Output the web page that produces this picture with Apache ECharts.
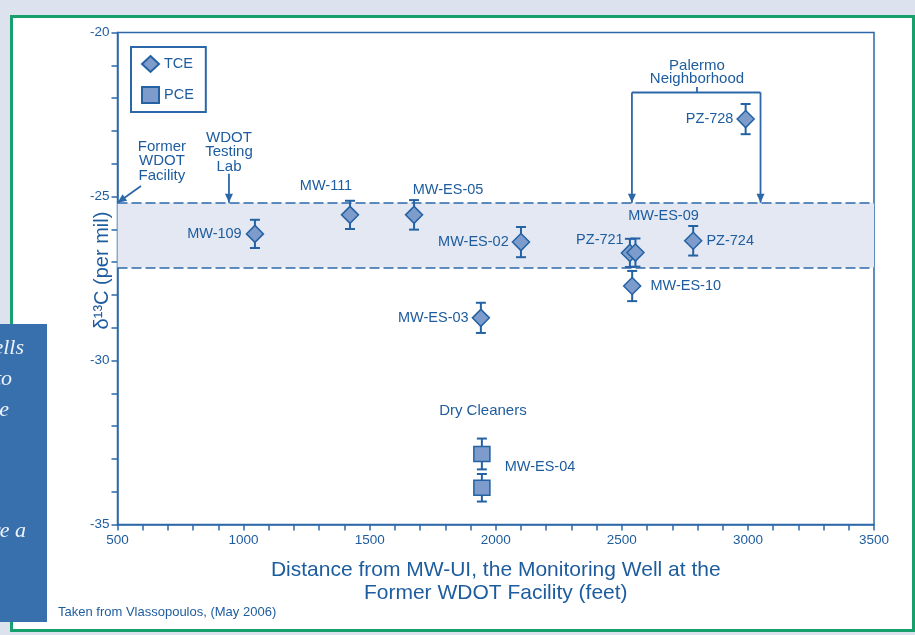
<!DOCTYPE html>
<html><head><meta charset="utf-8">
<script src="https://cdn.jsdelivr.net/npm/echarts@6/dist/echarts.min.js"></script>
<style>html,body{margin:0;padding:0;background:#dde3ee;}#c{width:915px;height:635px;}</style>
</head><body><div id="c"></div>
<script>
// ---- data ----
const tceNames = ['MW-109','MW-111','MW-ES-05','MW-ES-02','MW-ES-03','PZ-721','MW-ES-09','MW-ES-10','PZ-724','PZ-728'];
const tceX     = [1045, 1422, 1676, 2100, 1941, 2532, 2554, 2541, 2783, 2991];
const tceY     = [-26.14, -25.56, -25.56, -26.39, -28.70, -26.72, -26.71, -27.73, -26.35, -22.64];
const tceErr   = [0.43, 0.43, 0.45, 0.46, 0.46, 0.43, 0.43, 0.46, 0.45, 0.46];
const pceNames = ['MW-ES-04', ''];
const pceX     = [1945, 1945];
const pceY     = [-32.85, -33.88];
const pceErr   = [0.47, 0.42];
const bandRange = [-25.19, -27.17];
const xTicks = [500, 1000, 1500, 2000, 2500, 3000, 3500];
const yTicks = [-35, -30, -25, -20];

// ---- styles ----
const AX = '#2c68a9', TXT = '#1d5c9e', FILL = '#7d9ccc', EDGE = '#2462a4', BAND = '#e3e8f3';
const FONT = 'Liberation Sans, Arial, sans-serif';
const labelStyle = {
  'MW-109':   {position:'left',  distance:4},
  'MW-111':   {position:'top',   distance:12, offset:[-24,0]},
  'MW-ES-05': {position:'top',   distance:8,  offset:[34,0]},
  'MW-ES-02': {position:'left',  distance:3},
  'MW-ES-03': {position:'left',  distance:3},
  'PZ-721':   {position:'left',  distance:6,  offset:[9,-13]},
  'MW-ES-09': {position:'top',   distance:20, offset:[28,0]},
  'MW-ES-10': {position:'right', distance:9},
  'PZ-724':   {position:'right', distance:4},
  'PZ-728':   {position:'left',  distance:3},
  'MW-ES-04': {position:'right', distance:14, offset:[0,13]}
};
function mkPoints(names, xs, ys){
  return names.map((n,i)=>{
    const ls = labelStyle[n];
    return {name:n, value:[xs[i], ys[i]],
      label: ls ? Object.assign({show:true, formatter:n, color:TXT, fontSize:14.5, fontFamily:FONT}, ls) : {show:false}};
  });
}
function errRows(xs, ys, es){ return xs.map((x,i)=>[x, ys[i], es[i]]); }
function renderErr(params, api){
  const x=api.value(0), y=api.value(1), e=api.value(2);
  const t=api.coord([x,y+e]), b=api.coord([x,y-e]);
  const w=5, st={stroke:EDGE, lineWidth:2};
  return {type:'group', children:[
    {type:'line', shape:{x1:t[0],y1:t[1],x2:b[0],y2:b[1]}, style:st},
    {type:'line', shape:{x1:t[0]-w,y1:t[1],x2:t[0]+w,y2:t[1]}, style:st},
    {type:'line', shape:{x1:b[0]-w,y1:b[1],x2:b[0]+w,y2:b[1]}, style:st}
  ]};
}

const chart = echarts.init(document.getElementById('c'));
const axisCommon = {
  axisLine:{show:true, onZero:false, lineStyle:{color:AX, width:1.5}},
  axisTick:{show:true, inside:false, length:6, lineStyle:{color:AX, width:1.5}},
  minorTick:{show:true, splitNumber:5, length:6, lineStyle:{color:AX, width:1.5}},
  splitLine:{show:false},
  axisLabel:{color:TXT, fontSize:13.5, fontFamily:FONT, formatter: v => String(v)}
};
chart.setOption({
  backgroundColor:'#dde3ee',
  animation:false,
  textStyle:{fontFamily:FONT},
  grid:{left:117.5, right:41, top:32.5, bottom:110.5, show:true, borderColor:AX, borderWidth:1.5},
  legend:{
    data:[{name:'TCE', icon:'diamond'},{name:'PCE', icon:'rect'}],
    orient:'vertical', left:131, top:47, padding:[8,12,8,10], itemGap:13,
    itemWidth:17, itemHeight:16, borderColor:AX, borderWidth:2, backgroundColor:'#fff',
    textStyle:{color:TXT, fontSize:14.5, fontFamily:FONT}, selectedMode:false
  },
  xAxis: Object.assign({}, axisCommon, {
    type:'value', min:xTicks[0], max:xTicks[xTicks.length-1], interval:xTicks[1]-xTicks[0],
    axisLabel:Object.assign({}, axisCommon.axisLabel, {margin:9}),
    name:'Distance from MW-UI, the Monitoring Well at the\nFormer WDOT Facility (feet)',
    nameLocation:'middle', nameGap:34, nameMoveOverlap:false,
    nameTextStyle:{color:TXT, fontSize:21, lineHeight:23, fontFamily:FONT}
  }),
  yAxis: Object.assign({}, axisCommon, {
    type:'value', min:yTicks[0], max:yTicks[yTicks.length-1], interval:yTicks[1]-yTicks[0],
    axisLabel:Object.assign({}, axisCommon.axisLabel, {margin:8}),
    name:'\u03B4\u00B9\u00B3C (per mil)', nameLocation:'middle', nameGap:5, nameRotate:90, nameMoveOverlap:false,
    nameTextStyle:{color:TXT, fontSize:20, fontFamily:FONT, padding:[0,0,0,16]}
  }),
  series:[
    {type:'line', name:'band', data:[], z:1, silent:true,
     markArea:{silent:true, itemStyle:{color:BAND}, data:[[{yAxis:bandRange[0]},{yAxis:bandRange[1]}]]},
     markLine:{silent:true, symbol:['none','none'], label:{show:false},
       lineStyle:{color:AX, width:1.5, type:[10,4]},
       data:[{yAxis:bandRange[0]},{yAxis:bandRange[1]}]}},
    {type:'custom', name:'tceErr', renderItem:renderErr, data:errRows(tceX,tceY,tceErr), z:3, silent:true, encode:{x:0,y:1}},
    {type:'custom', name:'pceErr', renderItem:renderErr, data:errRows(pceX,pceY,pceErr), z:3, silent:true, encode:{x:0,y:1}},
    {type:'scatter', name:'TCE', symbol:'diamond', symbolSize:17, z:5,
     itemStyle:{color:FILL, borderColor:EDGE, borderWidth:1.5, opacity:1},
     data:mkPoints(tceNames,tceX,tceY)},
    {type:'scatter', name:'PCE', symbol:'rect', symbolSize:[16,15], z:5,
     itemStyle:{color:FILL, borderColor:EDGE, borderWidth:1.5, opacity:1},
     data:mkPoints(pceNames,pceX,pceY)}
  ]
});

// ---- annotations (anchored in data coordinates) ----
const annot = {
  facilityText:[676,-23.92], facilityFrom:[593,-24.68], facilityTip:[500,bandRange[0]],
  labText:[942,-23.64], labFrom:[942,-24.31], labTip:[942,bandRange[0]],
  palermoText:[2798,-21.2], stemTop:[2798,-21.66], bracketY:-21.83, bracketX:[2540,3050],
  dryText:[1949,-31.54]
};
const P = v => chart.convertToPixel({gridIndex:0}, v);
function arrowHead(tip, from, len, half){
  const dx=tip[0]-from[0], dy=tip[1]-from[1], L=Math.hypot(dx,dy), ux=dx/L, uy=dy/L;
  const bx=tip[0]-ux*len, by=tip[1]-uy*len;
  return {type:'polygon', z:20, shape:{points:[tip,[bx-uy*half,by+ux*half],[bx+uy*half,by-ux*half]]}, style:{fill:AX}};
}
function seg(a,b){ return {type:'line', z:20, shape:{x1:a[0],y1:a[1],x2:b[0],y2:b[1]}, style:{stroke:AX, lineWidth:1.8}}; }
function txt(p, s, extra){ return {type:'text', z:20, x:p[0], y:p[1], style:Object.assign({text:s, fill:TXT, fontSize:15, fontFamily:FONT, align:'center', verticalAlign:'middle', lineHeight:14.5}, extra||{})}; }
const serif = {align:'right', fill:'#eef3fa', fontFamily:'Liberation Serif, serif', fontStyle:'italic', fontSize:22};
function stxt(p, s){ const t = txt(p, s, serif); t.z = 110; return t; }

const fT=P(annot.facilityTip), fF=P(annot.facilityFrom);
const lT=P(annot.labTip), lF=P(annot.labFrom);
const sTop=P(annot.stemTop), bL=P([annot.bracketX[0],annot.bracketY]), bR=P([annot.bracketX[1],annot.bracketY]);
const bLt=P([annot.bracketX[0],bandRange[0]]), bRt=P([annot.bracketX[1],bandRange[0]]);
const sBot=[sTop[0], bL[1]];

const g = [
  {type:'rect', z:-100, shape:{x:11.5, y:16.5, width:902, height:614}, style:{fill:'#fff', stroke:'#17a06b', lineWidth:3}},
  {type:'rect', z:100, shape:{x:0, y:324, width:47, height:298}, style:{fill:'#3870ad'}},
  stxt([24,348],'wells'),
  stxt([12,379],'to'),
  stxt([9,410],'the'),
  stxt([26,531],'are a'),
  txt([58,612],'Taken from Vlassopoulos, (May 2006)',{align:'left', fontSize:13}),
  txt(P(annot.facilityText),'Former\nWDOT\nFacility'),
  seg(fF, fT), arrowHead(fT, fF, 9, 4),
  txt(P(annot.labText),'WDOT\nTesting\nLab'),
  seg(lF, lT), arrowHead(lT, lF, 9, 4),
  txt(P(annot.palermoText),'Palermo\nNeighborhood',{lineHeight:13}),
  seg(sTop, sBot), seg(bL, bR), seg(bL, bLt), seg(bR, bRt),
  arrowHead(bLt, bL, 9, 4), arrowHead(bRt, bR, 9, 4),
  txt(P(annot.dryText),'Dry Cleaners')
];
g.forEach((e,i)=>{ e.id='g'+i; });
chart.setOption({graphic:g});
</script>
</body></html>
